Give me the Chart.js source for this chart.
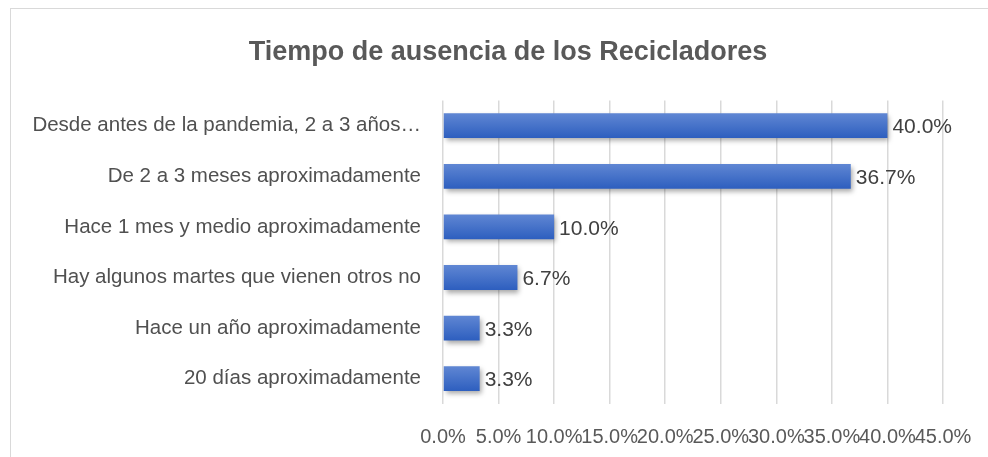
<!DOCTYPE html>
<html>
<head>
<meta charset="utf-8">
<script src="https://cdn.jsdelivr.net/npm/chart.js@4.4.1/dist/chart.umd.min.js"></script>
<style>
  html, body { margin: 0; padding: 0; background: #fff; }
  #wrap { position: absolute; left: 0; top: 0; width: 988px; height: 457px; }
  #frame { position: absolute; left: 10px; top: 8px; width: 990px; height: 470px; border: 1px solid #d9d9d9; box-sizing: border-box; }
</style>
</head>
<body>
<div id="frame"></div>
<div id="wrap"><canvas id="chart"></canvas></div>
<script>
// Tiempo de ausencia de los Recicladores - horizontal bar chart

const titleText = 'Tiempo de ausencia de los Recicladores';

const categories = [
    'Desde antes de la pandemia, 2 a 3 años…',
    'De 2 a 3 meses aproximadamente',
    'Hace 1 mes y medio aproximadamente',
    'Hay algunos martes que vienen otros no',
    'Hace un año aproximadamente',
    '20 días aproximadamente'
];

const percentValues = [0.400, 0.367, 0.100, 0.067, 0.033, 0.033];

const axisMin = 0;
const axisMax = 0.45;
const axisStep = 0.05;

const fontFamily = '"Liberation Sans", Arial, sans-serif';

function pct(v) {
    return (v * 100).toFixed(1) + '%';
}

// light-to-dark vertical gradient per bar, like the office chart style
function barGradient(context) {
    const chart = context.chart;
    const yScale = chart.scales.y;
    if (!yScale) return '#4472c4';
    const y = yScale.getPixelForValue(context.dataIndex);
    if (!isFinite(y)) return '#4472c4';
    const half = 12;
    const g = chart.ctx.createLinearGradient(0, y - half, 0, y + half);
    g.addColorStop(0, '#5f86d3');
    g.addColorStop(1, '#2e5fbf');
    return g;
}

const shadowPlugin = {
    id: 'barShadow',
    beforeDatasetsDraw(chart) {
        const ctx = chart.ctx;
        ctx.save();
        ctx.shadowColor = 'rgba(0, 0, 0, 0.35)';
        ctx.shadowBlur = 5;
        ctx.shadowOffsetX = 2;
        ctx.shadowOffsetY = 3;
    },
    afterDatasetsDraw(chart) {
        chart.ctx.restore();
    }
};

const valueLabels = {
    id: 'valueLabels',
    afterDraw(chart) {
        const ctx = chart.ctx;
        const meta = chart.getDatasetMeta(0);
        ctx.save();
        ctx.font = '21px ' + fontFamily;
        ctx.fillStyle = '#404040';
        ctx.textAlign = 'left';
        ctx.textBaseline = 'middle';
        meta.data.forEach((bar, i) => {
            ctx.fillText(pct(percentValues[i]), bar.x + 5, bar.y + 2);
        });
        ctx.restore();
    }
};

const ctx = document.getElementById('chart').getContext('2d');

new Chart(ctx, {
    type: 'bar',
    data: {
        labels: categories,
        datasets: [{
            data: percentValues,
            backgroundColor: barGradient,
            borderWidth: 0,
            barPercentage: 0.9,
            categoryPercentage: 0.545
        }]
    },
    options: {
        indexAxis: 'y',
        responsive: true,
        maintainAspectRatio: false,
        animation: false,
        layout: { padding: { top: 22, right: 0, bottom: 10, left: 28 } },
        plugins: {
            legend: { display: false },
            tooltip: { enabled: false },
            title: {
                display: true,
                text: titleText,
                color: '#595959',
                font: { family: fontFamily, size: 27, weight: 'bold' },
                padding: { top: 14, bottom: 32 }
            }
        },
        scales: {
            x: {
                min: axisMin,
                max: axisMax,
                grid: { color: '#d9d9d9', lineWidth: 1.5, drawTicks: false },
                border: { display: false },
                afterFit: scale => {
                    scale.height = 43;
                    scale.paddingRight = 45;
                },
                ticks: {
                    stepSize: axisStep,
                    autoSkip: false,
                    maxRotation: 0,
                    padding: 21,
                    color: '#595959',
                    font: { family: fontFamily, size: 20 },
                    callback: v => pct(v)
                }
            },
            y: {
                grid: { display: false, drawTicks: false },
                border: { display: false },
                afterFit: scale => { scale.width = 415; },
                ticks: {
                    padding: 22,
                    color: '#505050',
                    font: { family: fontFamily, size: 20.5 }
                }
            }
        }
    },
    plugins: [shadowPlugin, valueLabels]
});
</script>
</body>
</html>
